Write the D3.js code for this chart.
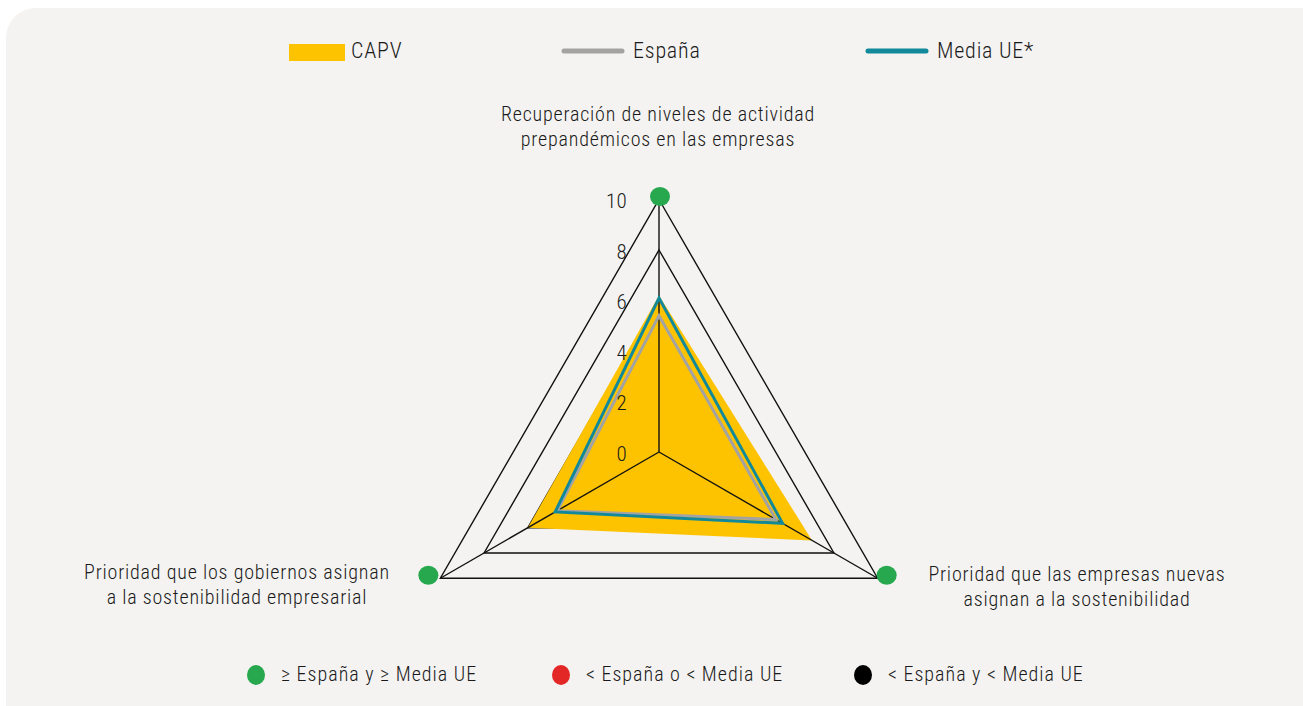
<!DOCTYPE html>
<html>
<head>
<meta charset="utf-8">
<script src="https://cdnjs.cloudflare.com/ajax/libs/d3/7.8.5/d3.min.js"></script>
<style>
  body { margin: 0; background: #fff; }
  text { font-family: "Roboto Condensed", "Liberation Sans Narrow", "DejaVu Sans Condensed", "Roboto", sans-serif; fill: #1a1a1a; font-weight: 300; letter-spacing: 0.8px; }
</style>
</head>
<body>
<div id="vis"></div>
<script>
var W = 1303, H = 706;

// ejes (orden: arriba, abajo derecha, abajo izquierda)
var ejes = [
  ["Recuperación de niveles de actividad", "prepandémicos en las empresas"],
  ["Prioridad que las empresas nuevas", "asignan a la sostenibilidad"],
  ["Prioridad que los gobiernos asignan", "a la sostenibilidad empresarial"]
];
var series = ["CAPV", "España", "Media UE*"];
var capv = [6.2, 7.0, 6.0];
var espana = [5.4, 5.35, 4.65];
var mediaUE = [6.1, 5.65, 4.75];
var ticks = [0, 2, 4, 6, 8, 10];
var estado = [0, 0, 0];   // indice en categoriasPunto
var categoriasPunto = ["≥ España y ≥ Media UE", "< España o < Media UE", "< España y < Media UE"];

var colores = { "CAPV": "#fdc300", "España": "#a3a3a3", "Media UE*": "#11899b" };
var coloresPunto = ["#27a84f", "#e32626", "#000000"];

var cx = 659, cy = 452;
var r = d3.scaleLinear().domain([0, 10]).range([0, 252.5]);
var ang = d3.scaleLinear().domain([0, ejes.length]).range([0, 2 * Math.PI]);

function pt(i, v) {
  var a = ang(i);
  return [cx + r(v) * Math.sin(a), cy - r(v) * Math.cos(a)];
}

var svg = d3.select("#vis").append("svg").attr("width", W).attr("height", H);

svg.append("rect").attr("x", 6).attr("y", 8).attr("width", W + 40).attr("height", H + 40)
  .attr("rx", 30).attr("fill", "#f4f3f1");

// anillos
var line = d3.line();
svg.selectAll("path.ring").data(ticks.filter(function(t){ return t > 0; })).enter()
  .append("path").attr("class", "ring")
  .attr("d", function(t) { return line(ejes.map(function(e, i) { return pt(i, t); })) + "Z"; })
  .attr("fill", "none").attr("stroke", "#111").attr("stroke-width", 1.4);

// CAPV relleno
svg.append("path")
  .attr("d", line(capv.map(function(v, i) { return pt(i, v); })) + "Z")
  .attr("fill", colores["CAPV"]);

// radios
svg.selectAll("line.spoke").data(ejes).enter().append("line")
  .attr("x1", cx).attr("y1", cy)
  .attr("x2", function(d, i) { return pt(i, 10)[0]; })
  .attr("y2", function(d, i) { return pt(i, 10)[1]; })
  .attr("stroke", "#111").attr("stroke-width", 1.4);

// lineas España y Media UE
[["España", espana], ["Media UE*", mediaUE]].forEach(function(s) {
  svg.append("path")
    .attr("d", line(s[1].map(function(v, i) { return pt(i, v); })) + "Z")
    .attr("fill", "none").attr("stroke", colores[s[0]]).attr("stroke-width", 3)
    .attr("stroke-linejoin", "miter");
});

// etiquetas de escala
svg.selectAll("text.tick").data(ticks).enter().append("text")
  .attr("x", 627).attr("y", function(t) { return cy - r(t) + 3; })
  .attr("text-anchor", "end").attr("dominant-baseline", "middle")
  .style("font-size", "21px").style("letter-spacing", "0.3px").text(function(t) { return t; });

// puntos de estado
svg.selectAll("ellipse.dot").data(estado).enter().append("ellipse")
  .attr("cx", function(d, i) { var p = pt(i, 10); return p[0] + (i === 0 ? 1 : (i === 1 ? 9 : -12)); })
  .attr("cy", function(d, i) { var p = pt(i, 10); return p[1] - 3; })
  .attr("rx", 10).attr("ry", 9.5)
  .attr("fill", function(d) { return coloresPunto[d]; });

// etiquetas de ejes
var labPos = [[658, 116], [1077, 576], [237, 574]];
ejes.forEach(function(e, i) {
  var t = svg.append("text").attr("text-anchor", "middle").style("font-size", "20px");
  e.forEach(function(l, j) {
    t.append("tspan").attr("x", labPos[i][0]).attr("y", labPos[i][1] + j * 25)
      .attr("dominant-baseline", "middle").text(l);
  });
});

// leyenda superior
var legX = [289, 562, 866];
series.forEach(function(s, i) {
  if (i === 0) {
    svg.append("rect").attr("x", legX[i]).attr("y", 44).attr("width", 56).attr("height", 17)
      .attr("fill", colores[s]);
  } else {
    svg.append("line").attr("x1", legX[i] + 2).attr("x2", legX[i] + 60).attr("y1", 51).attr("y2", 51)
      .attr("stroke", colores[s]).attr("stroke-width", 5).attr("stroke-linecap", "round");
  }
  svg.append("text").attr("x", legX[i] + (i === 0 ? 62 : 71)).attr("y", 52)
    .attr("dominant-baseline", "middle").style("font-size", "22px").text(s);
});

// leyenda inferior
var legBX = [256, 561, 863];
categoriasPunto.forEach(function(c, i) {
  svg.append("ellipse").attr("cx", legBX[i]).attr("cy", 675).attr("rx", 9).attr("ry", 10)
    .attr("fill", coloresPunto[i]);
  svg.append("text").attr("x", legBX[i] + 25).attr("y", 676)
    .attr("dominant-baseline", "middle").style("font-size", "20px").style("letter-spacing", "1px").text(c);
});
</script>
</body>
</html>
